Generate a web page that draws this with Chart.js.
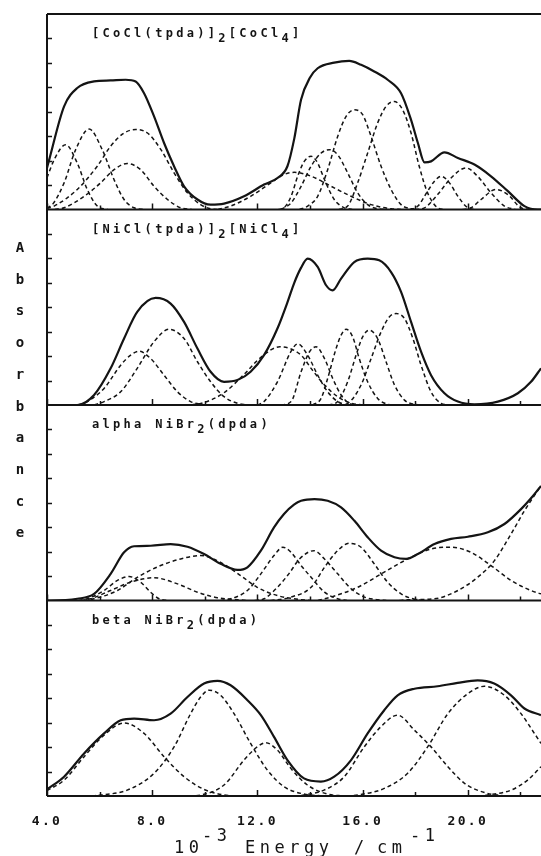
<!DOCTYPE html>
<html>
<head>
<meta charset="utf-8">
<script src="https://cdn.jsdelivr.net/npm/chart.js@4"></script>
<style>
  html, body { margin: 0; padding: 0; background: #fff; overflow: hidden; }
  canvas { display: block; }
</style>
</head>
<body>
<canvas id="chart" width="541" height="856"></canvas>
<script>
// axis ticks, 10^-3 Energy / cm^-1
const xTicks = [4, 6, 8, 10, 12, 14, 16, 18, 20, 22];
const xTickLabels = ["4.0", "", "8.0", "", "12.0", "", "16.0", "", "20.0", ""];
const yTicks = [1, 2, 3, 4, 5, 6, 7];

// panel titles, "_n" = subscript
const panelNames = [
    "[CoCl(tpda)]_2[CoCl_4]",
    "[NiCl(tpda)]_2[NiCl_4]",
    "alpha NiBr_2(dpda)",
    "beta NiBr_2(dpda)"
];

// [CoCl(tpda)]2[CoCl4] : envelope + bands
const coEnv = [[4.0,1.7],[4.08,2.02],[4.65,4.22],[5.15,4.97],[5.79,5.24],[6.42,5.28],[6.99,5.31],[7.37,5.24],[7.69,4.76],[8.07,3.81],[8.45,2.72],[8.83,1.77],[9.21,0.95],[9.72,0.41],[10.22,0.2],[10.73,0.24],[11.49,0.54],[12.25,1.02],[12.76,1.29],[13.14,1.77],[13.4,2.9],[13.66,4.5],[14.0,5.4],[14.29,5.78],[14.92,6.01],[15.49,6.08],[15.94,5.92],[16.44,5.65],[16.95,5.31],[17.46,4.76],[17.84,3.67],[18.1,2.72],[18.35,1.93],[18.6,1.97],[19.11,2.34],[19.62,2.11],[20.25,1.84],[20.88,1.36],[21.52,0.75],[22.15,0.14],[22.66,0],[22.78,0]];
const coA = [[4.0,1.3],[4.3,2.1],[4.71,2.65],[5.15,1.9],[5.53,0.82],[5.91,0.14],[6.3,0]];
const coB = [[4.0,0.05],[4.24,0.25],[4.65,1.09],[5.09,2.45],[5.6,3.29],[6.1,2.45],[6.55,1.22],[6.93,0.41],[7.31,0.07],[7.7,0]];
const coC = [[4.0,0.05],[4.27,0.14],[5.15,0.82],[5.91,1.77],[6.42,2.59],[6.93,3.13],[7.37,3.27],[7.82,3.13],[8.33,2.45],[8.83,1.5],[9.34,0.68],[9.84,0.2],[10.22,0.03],[10.6,0]];
const coD = [[4.3,0],[4.65,0.07],[5.41,0.54],[6.04,1.09],[6.55,1.63],[7.05,1.88],[7.56,1.63],[8.07,0.95],[8.58,0.41],[9.08,0.07],[9.5,0]];
const coE = [[10.5,0],[10.98,0.14],[11.74,0.54],[12.51,1.09],[13.01,1.43],[13.4,1.52],[14.04,1.36],[14.8,0.95],[15.56,0.54],[16.32,0.2],[17.08,0.03],[17.5,0]];
const coF = [[12.8,0],[13.01,0.07],[13.28,0.54],[13.53,1.36],[13.78,1.97],[14.04,2.18],[14.29,1.9],[14.55,1.22],[14.92,0.41],[15.3,0.07],[15.6,0]];
const coG = [[12.9,0],[13.28,0.27],[13.66,0.95],[14.04,1.77],[14.42,2.31],[14.73,2.45],[15.05,2.24],[15.43,1.5],[15.81,0.68],[16.19,0.2],[16.57,0.03],[16.9,0]];
const coH = [[13.6,0],[13.91,0.14],[14.29,0.54],[14.67,1.63],[15.05,2.99],[15.37,3.81],[15.68,4.08],[16.0,3.88],[16.32,2.99],[16.7,1.77],[17.08,0.82],[17.46,0.2],[17.84,0.03],[18.1,0]];
const coI = [[15.1,0],[15.43,0.14],[15.81,1.09],[16.19,2.31],[16.57,3.54],[16.89,4.22],[17.2,4.42],[17.52,4.08],[17.84,3.13],[18.15,1.77],[18.47,0.68],[18.85,0.07],[19.1,0]];
const coJ = [[17.8,0],[18.1,0.14],[18.47,0.75],[18.73,1.16],[18.98,1.36],[19.3,1.09],[19.62,0.54],[20.0,0.07],[20.3,0]];
const coK = [[18.0,0],[18.35,0.07],[18.85,0.61],[19.36,1.29],[19.93,1.7],[20.37,1.36],[20.88,0.68],[21.39,0.14],[21.8,0]];
const coL = [[19.8,0],[20.12,0.07],[20.5,0.41],[21.07,0.82],[21.52,0.61],[22.02,0.07],[22.4,0]];

// [NiCl(tpda)]2[NiCl4]
const niEnv = [[4.0,0],[5.15,0],[5.79,0.41],[6.42,1.5],[6.93,2.72],[7.43,3.81],[8.13,4.38],[8.7,4.15],[9.21,3.4],[9.72,2.31],[10.22,1.36],[10.73,0.95],[11.24,1.02],[11.74,1.36],[12.25,2.04],[12.76,3.13],[13.14,4.2],[13.4,5.0],[13.65,5.6],[13.91,5.99],[14.29,5.65],[14.61,4.9],[14.86,4.69],[15.18,5.17],[15.68,5.85],[16.19,5.99],[16.63,5.92],[17.08,5.44],[17.46,4.63],[17.84,3.4],[18.22,2.18],[18.6,1.22],[19.11,0.48],[19.62,0.14],[20.25,0.03],[21.14,0.14],[21.9,0.48],[22.4,0.95],[22.78,1.5]];
const niA = [[5.2,0],[5.53,0.14],[6.17,0.68],[6.8,1.63],[7.18,2.04],[7.5,2.2],[7.94,1.9],[8.45,1.22],[8.96,0.54],[9.46,0.14],[9.84,0.03],[10.2,0]];
const niB = [[5.8,0],[6.17,0.14],[6.8,0.54],[7.43,1.5],[8.07,2.59],[8.64,3.1],[9.21,2.72],[9.72,1.77],[10.22,0.95],[10.73,0.34],[11.24,0.07],[11.6,0]];
const niC = [[9.5,0],[9.97,0.1],[10.73,0.5],[11.49,1.25],[12.13,1.95],[12.85,2.38],[13.66,2.04],[14.04,1.5],[14.55,0.82],[15.05,0.34],[15.56,0.07],[16.0,0]];
const niD = [[12.0,0],[12.25,0.14],[12.76,0.95],[13.27,2.18],[13.53,2.5],[13.91,2.04],[14.29,1.22],[14.67,0.54],[15.05,0.14],[15.4,0]];
const niE = [[12.9,0],[13.28,0.14],[13.66,1.36],[13.98,2.18],[14.23,2.38],[14.55,1.9],[14.86,1.09],[15.18,0.41],[15.49,0.07],[15.8,0]];
const niF = [[14.1,0],[14.42,0.27],[14.67,1.09],[14.99,2.31],[15.18,2.86],[15.37,3.1],[15.62,2.79],[15.87,1.9],[16.19,0.95],[16.57,0.27],[16.95,0.03],[17.2,0]];
const niG = [[14.7,0],[15.05,0.14],[15.43,0.95],[15.75,2.04],[16.0,2.79],[16.25,3.06],[16.57,2.72],[16.89,1.77],[17.21,0.82],[17.59,0.2],[17.97,0.03],[18.3,0]];
const niH = [[15.1,0],[15.43,0.07],[15.94,0.82],[16.32,1.9],[16.7,2.99],[17.02,3.61],[17.27,3.74],[17.59,3.54],[17.91,2.72],[18.22,1.63],[18.6,0.54],[18.98,0.07],[19.3,0]];

// alpha NiBr2(dpda)
const alEnv = [[4.0,0],[4.14,0],[5.15,0.07],[5.79,0.27],[6.42,1.09],[6.93,1.97],[7.31,2.22],[7.94,2.24],[8.7,2.31],[9.34,2.2],[9.97,1.9],[10.6,1.5],[11.24,1.25],[11.62,1.36],[12.13,2.04],[12.63,2.99],[13.01,3.54],[13.39,3.92],[13.66,4.08],[14.17,4.15],[14.67,4.08],[15.18,3.81],[15.68,3.27],[16.19,2.59],[16.7,2.04],[17.21,1.77],[17.65,1.7],[18.1,1.9],[18.73,2.31],[19.36,2.52],[20.0,2.61],[20.76,2.79],[21.39,3.13],[22.02,3.74],[22.53,4.35],[22.78,4.69]];
const alA = [[5.2,0],[5.53,0.07],[6.17,0.41],[6.68,0.82],[7.12,0.98],[7.56,0.75],[7.94,0.34],[8.26,0.07],[8.6,0]];
const alB = [[5.3,0],[5.66,0.07],[6.42,0.41],[7.18,0.75],[8.07,0.93],[8.96,0.68],[9.72,0.34],[10.48,0.11],[11.24,0.03],[11.6,0]];
const alC = [[5.4,0],[5.79,0.07],[6.68,0.41],[7.43,0.95],[8.32,1.43],[9.08,1.7],[9.84,1.84],[10.6,1.56],[11.36,1.02],[11.99,0.54],[12.76,0.2],[13.39,0.07],[14.0,0]];
const alD = [[10.6,0],[10.98,0.07],[11.62,0.41],[12.13,1.09],[12.63,1.84],[12.97,2.18],[13.28,1.97],[13.66,1.43],[14.04,0.95],[14.55,0.34],[15.05,0.07],[15.4,0]];
const alE = [[11.9,0],[12.25,0.07],[12.76,0.54],[13.2,1.1],[13.6,1.7],[14.15,2.04],[14.55,1.7],[15.05,1.09],[15.56,0.48],[16.07,0.14],[16.57,0.03],[16.9,0]];
const alF = [[12.5,0],[12.76,0.03],[13.28,0.14],[14.04,0.54],[14.55,1.36],[15.05,2.04],[15.49,2.34],[15.94,2.18],[16.44,1.5],[16.95,0.75],[17.46,0.27],[17.97,0.05],[18.3,0]];
const alG = [[14.3,0],[14.8,0.14],[15.81,0.54],[16.82,1.16],[17.84,1.77],[18.6,2.11],[19.36,2.18],[20.12,1.97],[20.88,1.43],[21.64,0.82],[22.4,0.41],[22.78,0.27]];
const alH = [[17.4,0],[17.71,0.03],[18.73,0.07],[19.62,0.41],[20.37,0.95],[21.01,1.63],[21.64,2.72],[22.15,3.67],[22.53,4.3],[22.78,4.69]];

// beta NiBr2(dpda)
const beEnv = [[4.0,0.27],[4.65,0.79],[5.41,1.74],[6.17,2.56],[6.8,3.1],[7.31,3.17],[8.07,3.1],[8.7,3.37],[9.34,4.05],[9.97,4.6],[10.48,4.71],[10.98,4.53],[11.62,3.92],[12.13,3.31],[12.63,2.42],[13.14,1.47],[13.77,0.72],[14.41,0.59],[14.92,0.79],[15.56,1.47],[16.19,2.56],[16.82,3.51],[17.33,4.12],[17.97,4.39],[18.85,4.49],[19.61,4.63],[20.37,4.73],[21.0,4.6],[21.64,4.12],[22.15,3.58],[22.78,3.31]];
const beA = [[4.0,0.22],[4.65,0.65],[5.41,1.61],[6.17,2.49],[6.93,2.99],[7.69,2.56],[8.45,1.61],[9.21,0.79],[9.97,0.27],[10.73,0.04],[11.2,0]];
const beB = [[5.7,0],[6.04,0.04],[7.05,0.24],[8.07,0.93],[8.83,2.01],[9.46,3.37],[9.84,4.05],[10.16,4.33],[10.6,4.12],[11.11,3.37],[11.74,2.15],[12.38,1.06],[13.01,0.38],[13.77,0.08],[14.53,0]];
const beC = [[9.4,0],[9.84,0.04],[10.73,0.45],[11.49,1.47],[11.99,2.01],[12.31,2.18],[12.76,1.88],[13.27,1.13],[13.9,0.45],[14.66,0.08],[15.3,0]];
const beD = [[13.4,0],[13.77,0.04],[14.53,0.24],[15.3,0.79],[16.06,2.01],[16.69,2.83],[17.33,3.31],[17.97,2.69],[18.6,2.01],[19.24,1.2],[19.87,0.52],[20.63,0.14],[21.39,0]];
const beE = [[15.4,0],[15.81,0.04],[16.82,0.31],[17.71,0.93],[18.47,2.01],[19.24,3.37],[20.0,4.19],[20.63,4.49],[21.39,4.12],[22.02,3.37],[22.53,2.56],[22.78,2.15]];
const beF = [[20.4,0],[20.75,0.04],[21.64,0.24],[22.27,0.65],[22.78,1.2]];

const panels = [
    { env: coEnv, bands: [coA, coB, coC, coD, coE, coF, coG, coH, coI, coJ, coK, coL] },
    { env: niEnv, bands: [niA, niB, niC, niD, niE, niF, niG, niH] },
    { env: alEnv, bands: [alA, alB, alC, alD, alE, alF, alG, alH] },
    { env: beEnv, bands: [beA, beB, beC, beD, beE, beF] }
];

const ink = "#141414";
const mono = '"DejaVu Sans Mono", "Liberation Mono", monospace';

const datasets = [];
const scales = {
    x: {
        type: "linear",
        min: 4,
        max: 22.78,
        afterBuildTicks: s => { s.ticks = xTicks.map(v => ({ value: v })); },
        afterFit: s => { s.height = 60; },
        grid: { display: false },
        border: { display: false },
        ticks: {
            autoSkip: false,
            maxRotation: 0,
            padding: 10,
            color: ink,
            font: { family: mono, size: 13, weight: "bold" },
            callback: (v, i) => xTickLabels[i]
        }
    }
};

panels.forEach((p, i) => {
    scales["y" + i] = {
        type: "linear", min: 0, max: 8, display: false,
        position: "left", stack: "abs", stackWeight: 1, weight: 4 - i, offset: false
    };
    datasets.push({
        data: p.env, yAxisID: "y" + i,
        borderColor: ink, borderWidth: 2.2, pointRadius: 0, fill: false,
        cubicInterpolationMode: "monotone"
    });
    p.bands.forEach(b => {
        datasets.push({
            data: b, yAxisID: "y" + i,
            borderColor: ink, borderWidth: 1.5, borderDash: [4, 3], pointRadius: 0, fill: false,
            cubicInterpolationMode: "monotone"
        });
    });
});

// draw text with "_n" subscripts, left aligned
function drawChem(ctx, text, x, y) {
    text.split(/(_\d)/).forEach(part => {
        if (!part) return;
        const sub = part[0] === "_";
        const t = sub ? part.slice(1) : part;
        ctx.fillText(t, x, sub ? y + 5 : y);
        x += ctx.measureText(t).width;
    });
}

const framePlugin = {
    id: "frame",
    beforeDraw(chart) {
        const ctx = chart.ctx;
        ctx.save();
        ctx.fillStyle = "#fff";
        ctx.fillRect(0, 0, chart.width, chart.height);
        ctx.restore();
        ctx.letterSpacing = "2.4px";
    },
    afterDraw(chart) {
        const { ctx, chartArea: a } = chart;
        const xs = chart.scales.x;
        ctx.save();
        ctx.strokeStyle = ink;
        ctx.fillStyle = ink;
        ctx.lineWidth = 2;
        ctx.setLineDash([]);
        ctx.beginPath();
        ctx.moveTo(a.left, a.top);
        ctx.lineTo(a.left, a.bottom);
        panels.forEach((p, i) => {
            const ys = chart.scales["y" + i];
            ctx.moveTo(a.left, ys.top);
            ctx.lineTo(a.right, ys.top);
            ctx.moveTo(a.left, ys.bottom);
            ctx.lineTo(a.right, ys.bottom);
        });
        ctx.stroke();

        ctx.lineWidth = 1.5;
        ctx.beginPath();
        panels.forEach((p, i) => {
            const ys = chart.scales["y" + i];
            yTicks.forEach(v => {
                const y = Math.round(ys.getPixelForValue(v)) + 0.5;
                ctx.moveTo(a.left, y);
                ctx.lineTo(a.left + 5, y);
            });
            xTicks.forEach((v, k) => {
                const x = Math.round(xs.getPixelForValue(v)) + 0.5;
                ctx.moveTo(x, ys.bottom);
                ctx.lineTo(x, ys.bottom - (k % 2 === 0 ? 6 : 4));
            });
        });
        ctx.stroke();

        // panel titles
        ctx.font = "bold 12px " + mono;
        ctx.letterSpacing = "3.3px";
        ctx.textBaseline = "alphabetic";
        ctx.textAlign = "left";
        panelNames.forEach((name, i) => {
            const ys = chart.scales["y" + i];
            drawChem(ctx, name, 92, ys.top + 23);
        });

        // y title, one letter per line
        ctx.font = "bold 14px " + mono;
        ctx.letterSpacing = "0px";
        ctx.textAlign = "center";
        "Absorbance".split("").forEach((ch, k) => {
            ctx.fillText(ch, 20, 252 + k * 31.7);
        });

        // x title
        ctx.font = "17px " + mono;
        ctx.letterSpacing = "4.5px";
        ctx.textAlign = "left";
        ctx.fillText("10", 174, 853);
        ctx.fillText("-3", 202, 841);
        ctx.fillText("Energy", 245, 853);
        ctx.fillText("/", 354, 853);
        ctx.fillText("cm", 377, 853);
        ctx.fillText("-1", 410, 841);
        ctx.restore();
    }
};

new Chart(document.getElementById("chart"), {
    type: "line",
    data: { datasets },
    options: {
        responsive: false,
        animation: false,
        events: [],
        layout: { padding: { top: 14, left: 47, right: 0, bottom: 0 } },
        plugins: {
            legend: { display: false },
            tooltip: { enabled: false },
            colors: { enabled: false }
        },
        scales
    },
    plugins: [framePlugin]
});
</script>
</body>
</html>
